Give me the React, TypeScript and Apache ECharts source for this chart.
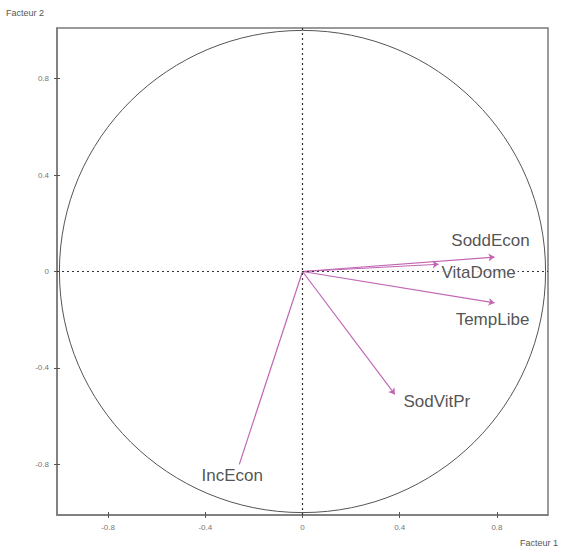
import React, { useEffect, useRef } from "react";
import * as echarts from "echarts";

const variables = ["SoddEcon", "VitaDome", "TempLibe", "SodVitPr", "IncEcon"];
const factor1 = [0.79, 0.56, 0.79, 0.38, -0.26];
const factor2 = [0.06, 0.03, -0.13, -0.51, -0.8];
const hasArrowHead = [true, true, true, true, false];
const tickValues = [-0.8, -0.4, 0, 0.4, 0.8];
const axisMin = -1.01;
const axisMax = 1.01;
const circleRadius = [1];

// label offsets (style only)
const labelOffsets: number[][] = [
  [-4, -17],
  [40, 8],
  [-2, 17],
  [42, 7],
  [-7, 11],
];

const arrowColor = "#c266b4";
const font = "Arial, 'Liberation Sans', sans-serif";

function makeAxis(kind: "x" | "y", withLabels: boolean, tickInside: boolean) {
  return {
    type: "value",
    min: axisMin,
    max: axisMax,
    position: kind === "x" ? "bottom" : "left",
    axisLine: { show: withLabels, onZero: false, lineStyle: { color: "#7a7a7a", width: 1.5 } },
    axisTick: {
      show: true,
      inside: tickInside,
      length: 3,
      customValues: tickValues,
      lineStyle: { color: "#555", width: 1 },
    },
    axisLabel: {
      show: withLabels,
      customValues: tickValues,
      color: "#777",
      fontSize: 8,
      fontFamily: font,
      margin: 8,
      formatter: (v: number) => (v === 0 ? "0" : String(Math.round(v * 10) / 10)),
    },
    splitLine: { show: false },
  };
}

export default function App() {
  const ref = useRef<HTMLDivElement>(null);
  useEffect(() => {
    if (!ref.current) return;
    const chart = echarts.init(ref.current, null, { renderer: "svg" });
    const toLine = (i: number) => ({
      name: variables[i],
      coords: [
        [0, 0],
        [factor1[i], factor2[i]],
      ],
    });
    const idx = variables.map((_, i) => i);
    const arrowData = idx.filter((i) => hasArrowHead[i]).map(toLine);
    const plainData = idx.filter((i) => !hasArrowHead[i]).map(toLine);
    const labelData = variables.map((name, i) => ({
      name,
      value: [factor1[i], factor2[i]],
      label: { offset: labelOffsets[i] },
    }));
    chart.setOption({
      animation: false,
      backgroundColor: "#fff",
      grid: {
        left: 57,
        top: 28,
        right: 18,
        bottom: 35,
        show: true,
        borderColor: "#7a7a7a",
        borderWidth: 1.5,
        backgroundColor: "transparent",
      },
      xAxis: [makeAxis("x", true, false), { ...makeAxis("x", false, true) }],
      yAxis: [makeAxis("y", true, false), { ...makeAxis("y", false, true) }],
      graphic: [
        {
          type: "text",
          left: 6,
          top: 8,
          style: { text: "Facteur 2", fill: "#555", fontSize: 9, fontFamily: font },
        },
        {
          type: "text",
          left: 520,
          top: 538,
          style: { text: "Facteur 1", fill: "#555", fontSize: 9, fontFamily: font },
        },
      ],
      series: [
        {
          type: "custom",
          coordinateSystem: "cartesian2d",
          silent: true,
          data: circleRadius.map((r) => [0, 0, r]),
          renderItem: (params: any, api: any) => {
            const c = api.coord([api.value(0), api.value(1)]);
            const r = api.value(2);
            const s = api.size([r, r]);
            return {
              type: "ellipse",
              shape: { cx: c[0], cy: c[1], rx: s[0], ry: s[1] },
              style: { fill: "none", stroke: "#555", lineWidth: 1 },
            };
          },
          markLine: {
            silent: true,
            symbol: "none",
            label: { show: false },
            lineStyle: { color: "#333", type: [2, 3], width: 1.2 },
            data: [{ xAxis: 0 }, { yAxis: 0 }],
          },
        },
        {
          type: "lines",
          coordinateSystem: "cartesian2d",
          silent: true,
          symbol: ["none", "arrow"],
          symbolSize: [0, 6],
          lineStyle: { color: arrowColor, width: 1.2, opacity: 1 },
          itemStyle: { color: arrowColor },
          data: arrowData,
        },
        {
          type: "lines",
          coordinateSystem: "cartesian2d",
          silent: true,
          symbol: ["none", "none"],
          lineStyle: { color: arrowColor, width: 1.2, opacity: 1 },
          data: plainData,
        },
        {
          type: "scatter",
          silent: true,
          symbolSize: 0,
          z: 5,
          data: labelData,
          label: {
            show: true,
            position: "inside",
            align: "center",
            verticalAlign: "middle",
            formatter: (p: any) => p.name,
            color: "#262626",
            fontSize: 17,
            fontFamily: font,
            backgroundColor: "#fff",
            padding: [0, 2],
          },
        },
      ],
    });
    return () => chart.dispose();
  }, []);
  return (
    <div
      ref={ref}
      style={{ position: "absolute", left: 0, top: 0, width: 566, height: 550 }}
    />
  );
}
